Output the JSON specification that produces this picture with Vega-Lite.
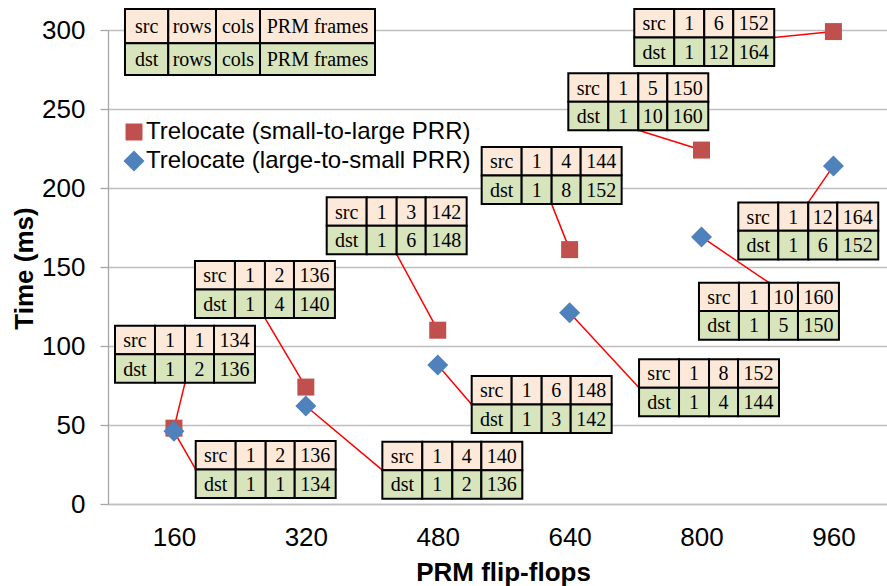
{
  "$schema": "https://vega.github.io/schema/vega-lite/v6.json",
  "width": 779,
  "height": 474,
  "autosize": {"type": "none"},
  "padding": {"left": 108, "top": 30, "right": 0, "bottom": 82},
  "background": "white",
  "config": {
    "view": {"stroke": null},
    "font": "Liberation Sans",
    "legend": {"labelLimit": 600},
    "axisX": {
      "grid": false, "ticks": false, "tickSize": 0,
      "labelFontSize": 26, "labelPadding": 20, "labelColor": "#000000", "labelFont": "Liberation Sans",
      "domainColor": "#bfbfbf", "domainWidth": 1.5,
      "titleFontSize": 26, "titleFontWeight": "bold", "titleColor": "#000000",
      "titleFont": "Liberation Sans", "titleX": 395, "titleY": 76, "titleBaseline": "alphabetic"
    },
    "axisY": {
      "grid": true, "gridColor": "#bfbfbf", "gridWidth": 1.3,
      "ticks": true, "tickSize": 8, "tickColor": "#a6a6a6", "tickWidth": 1.3,
      "domainColor": "#a6a6a6", "domainWidth": 1.3,
      "labelFontSize": 26, "labelPadding": 15, "labelColor": "#000000", "labelFont": "Liberation Sans",
      "titleFontSize": 26, "titleFontWeight": "bold", "titleColor": "#000000",
      "titleFont": "Liberation Sans", "titleAngle": -90, "titleX": -76, "titleY": 238, "titleBaseline": "alphabetic"
    }
  },
  "datasets": {
    "points": [
      {"ff": 160, "time": 48, "series": "Trelocate (small-to-large PRR)"},
      {"ff": 320, "time": 74, "series": "Trelocate (small-to-large PRR)"},
      {"ff": 480, "time": 110, "series": "Trelocate (small-to-large PRR)"},
      {"ff": 640, "time": 161, "series": "Trelocate (small-to-large PRR)"},
      {"ff": 800, "time": 224, "series": "Trelocate (small-to-large PRR)"},
      {"ff": 960, "time": 299, "series": "Trelocate (small-to-large PRR)"},
      {"ff": 160, "time": 46, "series": "Trelocate (large-to-small PRR)"},
      {"ff": 320, "time": 62, "series": "Trelocate (large-to-small PRR)"},
      {"ff": 480, "time": 88, "series": "Trelocate (large-to-small PRR)"},
      {"ff": 640, "time": 121, "series": "Trelocate (large-to-small PRR)"},
      {"ff": 800, "time": 169, "series": "Trelocate (large-to-small PRR)"},
      {"ff": 960, "time": 214, "series": "Trelocate (large-to-small PRR)"}
    ],
    "links": [
      {"x": 888.2, "y": 295.3, "x2": 960, "y2": 299},
      {"x": 723.3, "y": 236.5, "x2": 800, "y2": 224},
      {"x": 618.2, "y": 189.8, "x2": 640, "y2": 161},
      {"x": 430.2, "y": 158.0, "x2": 480, "y2": 110},
      {"x": 270.4, "y": 117.7, "x2": 320, "y2": 74},
      {"x": 173.4, "y": 76.7, "x2": 160, "y2": 48},
      {"x": 186.4, "y": 21.9, "x2": 160, "y2": 46},
      {"x": 412.8, "y": 21.4, "x2": 320, "y2": 62},
      {"x": 521.2, "y": 63.0, "x2": 480, "y2": 88},
      {"x": 724.2, "y": 73.6, "x2": 640, "y2": 121},
      {"x": 881.8, "y": 140.1, "x2": 800, "y2": 169},
      {"x": 929.5, "y": 190.9, "x2": 960, "y2": 214}
    ],
    "cells": [
      {"t": "H", "r": "src", "v": "src", "x": 100.6, "x2": 153.1, "y": 313.3, "y2": 291.6},
      {"t": "H", "r": "src", "v": "rows", "x": 153.1, "x2": 211.0, "y": 313.3, "y2": 291.6},
      {"t": "H", "r": "src", "v": "cols", "x": 211.0, "x2": 264.4, "y": 313.3, "y2": 291.6},
      {"t": "H", "r": "src", "v": "PRM frames", "x": 264.4, "x2": 403.9, "y": 313.3, "y2": 291.6},
      {"t": "H", "r": "dst", "v": "dst", "x": 100.6, "x2": 153.1, "y": 291.6, "y2": 271.5},
      {"t": "H", "r": "dst", "v": "rows", "x": 153.1, "x2": 211.0, "y": 291.6, "y2": 271.5},
      {"t": "H", "r": "dst", "v": "cols", "x": 211.0, "x2": 264.4, "y": 291.6, "y2": 271.5},
      {"t": "H", "r": "dst", "v": "PRM frames", "x": 264.4, "x2": 403.9, "y": 291.6, "y2": 271.5},

      {"t": "R960", "r": "src", "v": "src", "x": 718.4, "x2": 766.9, "y": 313.3, "y2": 295.3},
      {"t": "R960", "r": "src", "v": "1", "x": 766.9, "x2": 803.3, "y": 313.3, "y2": 295.3},
      {"t": "R960", "r": "src", "v": "6", "x": 803.3, "x2": 838.5, "y": 313.3, "y2": 295.3},
      {"t": "R960", "r": "src", "v": "152", "x": 838.5, "x2": 888.2, "y": 313.3, "y2": 295.3},
      {"t": "R960", "r": "dst", "v": "dst", "x": 718.4, "x2": 766.9, "y": 295.3, "y2": 277.2},
      {"t": "R960", "r": "dst", "v": "1", "x": 766.9, "x2": 803.3, "y": 295.3, "y2": 277.2},
      {"t": "R960", "r": "dst", "v": "12", "x": 803.3, "x2": 838.5, "y": 295.3, "y2": 277.2},
      {"t": "R960", "r": "dst", "v": "164", "x": 838.5, "x2": 888.2, "y": 295.3, "y2": 277.2},

      {"t": "R800", "r": "src", "v": "src", "x": 638.4, "x2": 686.9, "y": 272.6, "y2": 254.6},
      {"t": "R800", "r": "src", "v": "1", "x": 686.9, "x2": 723.3, "y": 272.6, "y2": 254.6},
      {"t": "R800", "r": "src", "v": "5", "x": 723.3, "x2": 758.5, "y": 272.6, "y2": 254.6},
      {"t": "R800", "r": "src", "v": "150", "x": 758.5, "x2": 808.2, "y": 272.6, "y2": 254.6},
      {"t": "R800", "r": "dst", "v": "dst", "x": 638.4, "x2": 686.9, "y": 254.6, "y2": 236.5},
      {"t": "R800", "r": "dst", "v": "1", "x": 686.9, "x2": 723.3, "y": 254.6, "y2": 236.5},
      {"t": "R800", "r": "dst", "v": "10", "x": 723.3, "x2": 758.5, "y": 254.6, "y2": 236.5},
      {"t": "R800", "r": "dst", "v": "160", "x": 758.5, "x2": 808.2, "y": 254.6, "y2": 236.5},

      {"t": "R640", "r": "src", "v": "src", "x": 533.3, "x2": 581.8, "y": 225.9, "y2": 207.9},
      {"t": "R640", "r": "src", "v": "1", "x": 581.8, "x2": 618.2, "y": 225.9, "y2": 207.9},
      {"t": "R640", "r": "src", "v": "4", "x": 618.2, "x2": 653.4, "y": 225.9, "y2": 207.9},
      {"t": "R640", "r": "src", "v": "144", "x": 653.4, "x2": 703.1, "y": 225.9, "y2": 207.9},
      {"t": "R640", "r": "dst", "v": "dst", "x": 533.3, "x2": 581.8, "y": 207.9, "y2": 189.8},
      {"t": "R640", "r": "dst", "v": "1", "x": 581.8, "x2": 618.2, "y": 207.9, "y2": 189.8},
      {"t": "R640", "r": "dst", "v": "8", "x": 618.2, "x2": 653.4, "y": 207.9, "y2": 189.8},
      {"t": "R640", "r": "dst", "v": "152", "x": 653.4, "x2": 703.1, "y": 207.9, "y2": 189.8},

      {"t": "R480", "r": "src", "v": "src", "x": 345.3, "x2": 393.8, "y": 194.1, "y2": 176.1},
      {"t": "R480", "r": "src", "v": "1", "x": 393.8, "x2": 430.2, "y": 194.1, "y2": 176.1},
      {"t": "R480", "r": "src", "v": "3", "x": 430.2, "x2": 465.4, "y": 194.1, "y2": 176.1},
      {"t": "R480", "r": "src", "v": "142", "x": 465.4, "x2": 515.1, "y": 194.1, "y2": 176.1},
      {"t": "R480", "r": "dst", "v": "dst", "x": 345.3, "x2": 393.8, "y": 176.1, "y2": 158.0},
      {"t": "R480", "r": "dst", "v": "1", "x": 393.8, "x2": 430.2, "y": 176.1, "y2": 158.0},
      {"t": "R480", "r": "dst", "v": "6", "x": 430.2, "x2": 465.4, "y": 176.1, "y2": 158.0},
      {"t": "R480", "r": "dst", "v": "148", "x": 465.4, "x2": 515.1, "y": 176.1, "y2": 158.0},

      {"t": "R320", "r": "src", "v": "src", "x": 185.5, "x2": 234.0, "y": 153.8, "y2": 135.8},
      {"t": "R320", "r": "src", "v": "1", "x": 234.0, "x2": 270.4, "y": 153.8, "y2": 135.8},
      {"t": "R320", "r": "src", "v": "2", "x": 270.4, "x2": 305.6, "y": 153.8, "y2": 135.8},
      {"t": "R320", "r": "src", "v": "136", "x": 305.6, "x2": 355.3, "y": 153.8, "y2": 135.8},
      {"t": "R320", "r": "dst", "v": "dst", "x": 185.5, "x2": 234.0, "y": 135.8, "y2": 117.7},
      {"t": "R320", "r": "dst", "v": "1", "x": 234.0, "x2": 270.4, "y": 135.8, "y2": 117.7},
      {"t": "R320", "r": "dst", "v": "4", "x": 270.4, "x2": 305.6, "y": 135.8, "y2": 117.7},
      {"t": "R320", "r": "dst", "v": "140", "x": 305.6, "x2": 355.3, "y": 135.8, "y2": 117.7},

      {"t": "R160", "r": "src", "v": "src", "x": 88.5, "x2": 137.0, "y": 112.8, "y2": 94.8},
      {"t": "R160", "r": "src", "v": "1", "x": 137.0, "x2": 173.4, "y": 112.8, "y2": 94.8},
      {"t": "R160", "r": "src", "v": "1", "x": 173.4, "x2": 208.6, "y": 112.8, "y2": 94.8},
      {"t": "R160", "r": "src", "v": "134", "x": 208.6, "x2": 258.3, "y": 112.8, "y2": 94.8},
      {"t": "R160", "r": "dst", "v": "dst", "x": 88.5, "x2": 137.0, "y": 94.8, "y2": 76.7},
      {"t": "R160", "r": "dst", "v": "1", "x": 137.0, "x2": 173.4, "y": 94.8, "y2": 76.7},
      {"t": "R160", "r": "dst", "v": "2", "x": 173.4, "x2": 208.6, "y": 94.8, "y2": 76.7},
      {"t": "R160", "r": "dst", "v": "136", "x": 208.6, "x2": 258.3, "y": 94.8, "y2": 76.7},

      {"t": "B160", "r": "src", "v": "src", "x": 186.4, "x2": 234.9, "y": 39.9, "y2": 21.9},
      {"t": "B160", "r": "src", "v": "1", "x": 234.9, "x2": 271.3, "y": 39.9, "y2": 21.9},
      {"t": "B160", "r": "src", "v": "2", "x": 271.3, "x2": 306.5, "y": 39.9, "y2": 21.9},
      {"t": "B160", "r": "src", "v": "136", "x": 306.5, "x2": 356.2, "y": 39.9, "y2": 21.9},
      {"t": "B160", "r": "dst", "v": "dst", "x": 186.4, "x2": 234.9, "y": 21.9, "y2": 3.8},
      {"t": "B160", "r": "dst", "v": "1", "x": 234.9, "x2": 271.3, "y": 21.9, "y2": 3.8},
      {"t": "B160", "r": "dst", "v": "1", "x": 271.3, "x2": 306.5, "y": 21.9, "y2": 3.8},
      {"t": "B160", "r": "dst", "v": "134", "x": 306.5, "x2": 356.2, "y": 21.9, "y2": 3.8},

      {"t": "B320", "r": "src", "v": "src", "x": 412.8, "x2": 461.3, "y": 39.4, "y2": 21.4},
      {"t": "B320", "r": "src", "v": "1", "x": 461.3, "x2": 497.7, "y": 39.4, "y2": 21.4},
      {"t": "B320", "r": "src", "v": "4", "x": 497.7, "x2": 532.9, "y": 39.4, "y2": 21.4},
      {"t": "B320", "r": "src", "v": "140", "x": 532.9, "x2": 582.6, "y": 39.4, "y2": 21.4},
      {"t": "B320", "r": "dst", "v": "dst", "x": 412.8, "x2": 461.3, "y": 21.4, "y2": 3.3},
      {"t": "B320", "r": "dst", "v": "1", "x": 461.3, "x2": 497.7, "y": 21.4, "y2": 3.3},
      {"t": "B320", "r": "dst", "v": "2", "x": 497.7, "x2": 532.9, "y": 21.4, "y2": 3.3},
      {"t": "B320", "r": "dst", "v": "136", "x": 532.9, "x2": 582.6, "y": 21.4, "y2": 3.3},

      {"t": "B480", "r": "src", "v": "src", "x": 521.2, "x2": 569.7, "y": 81.0, "y2": 63.0},
      {"t": "B480", "r": "src", "v": "1", "x": 569.7, "x2": 606.1, "y": 81.0, "y2": 63.0},
      {"t": "B480", "r": "src", "v": "6", "x": 606.1, "x2": 641.3, "y": 81.0, "y2": 63.0},
      {"t": "B480", "r": "src", "v": "148", "x": 641.3, "x2": 691.0, "y": 81.0, "y2": 63.0},
      {"t": "B480", "r": "dst", "v": "dst", "x": 521.2, "x2": 569.7, "y": 63.0, "y2": 44.9},
      {"t": "B480", "r": "dst", "v": "1", "x": 569.7, "x2": 606.1, "y": 63.0, "y2": 44.9},
      {"t": "B480", "r": "dst", "v": "3", "x": 606.1, "x2": 641.3, "y": 63.0, "y2": 44.9},
      {"t": "B480", "r": "dst", "v": "142", "x": 641.3, "x2": 691.0, "y": 63.0, "y2": 44.9},

      {"t": "B640", "r": "src", "v": "src", "x": 724.2, "x2": 772.7, "y": 91.6, "y2": 73.6},
      {"t": "B640", "r": "src", "v": "1", "x": 772.7, "x2": 809.1, "y": 91.6, "y2": 73.6},
      {"t": "B640", "r": "src", "v": "8", "x": 809.1, "x2": 844.3, "y": 91.6, "y2": 73.6},
      {"t": "B640", "r": "src", "v": "152", "x": 844.3, "x2": 894.0, "y": 91.6, "y2": 73.6},
      {"t": "B640", "r": "dst", "v": "dst", "x": 724.2, "x2": 772.7, "y": 73.6, "y2": 55.5},
      {"t": "B640", "r": "dst", "v": "1", "x": 772.7, "x2": 809.1, "y": 73.6, "y2": 55.5},
      {"t": "B640", "r": "dst", "v": "4", "x": 809.1, "x2": 844.3, "y": 73.6, "y2": 55.5},
      {"t": "B640", "r": "dst", "v": "144", "x": 844.3, "x2": 894.0, "y": 73.6, "y2": 55.5},

      {"t": "B800", "r": "src", "v": "src", "x": 796.9, "x2": 845.4, "y": 140.1, "y2": 122.1},
      {"t": "B800", "r": "src", "v": "1", "x": 845.4, "x2": 881.8, "y": 140.1, "y2": 122.1},
      {"t": "B800", "r": "src", "v": "10", "x": 881.8, "x2": 917.0, "y": 140.1, "y2": 122.1},
      {"t": "B800", "r": "src", "v": "160", "x": 917.0, "x2": 966.7, "y": 140.1, "y2": 122.1},
      {"t": "B800", "r": "dst", "v": "dst", "x": 796.9, "x2": 845.4, "y": 122.1, "y2": 104.0},
      {"t": "B800", "r": "dst", "v": "1", "x": 845.4, "x2": 881.8, "y": 122.1, "y2": 104.0},
      {"t": "B800", "r": "dst", "v": "5", "x": 881.8, "x2": 917.0, "y": 122.1, "y2": 104.0},
      {"t": "B800", "r": "dst", "v": "150", "x": 917.0, "x2": 966.7, "y": 122.1, "y2": 104.0},

      {"t": "B960", "r": "src", "v": "src", "x": 844.6, "x2": 893.1, "y": 190.9, "y2": 172.9},
      {"t": "B960", "r": "src", "v": "1", "x": 893.1, "x2": 929.5, "y": 190.9, "y2": 172.9},
      {"t": "B960", "r": "src", "v": "12", "x": 929.5, "x2": 964.7, "y": 190.9, "y2": 172.9},
      {"t": "B960", "r": "src", "v": "164", "x": 964.7, "x2": 1014.4, "y": 190.9, "y2": 172.9},
      {"t": "B960", "r": "dst", "v": "dst", "x": 844.6, "x2": 893.1, "y": 172.9, "y2": 154.8},
      {"t": "B960", "r": "dst", "v": "1", "x": 893.1, "x2": 929.5, "y": 172.9, "y2": 154.8},
      {"t": "B960", "r": "dst", "v": "6", "x": 929.5, "x2": 964.7, "y": 172.9, "y2": 154.8},
      {"t": "B960", "r": "dst", "v": "152", "x": 964.7, "x2": 1014.4, "y": 172.9, "y2": 154.8}
    ]
  },
  "layer": [
    {
      "data": {"name": "points"},
      "mark": {"type": "point", "opacity": 0},
      "encoding": {
        "x": {
          "field": "ff", "type": "quantitative", "title": "PRM flip-flops",
          "scale": {"domain": [80, 1025], "nice": false, "zero": false},
          "axis": {"values": [160, 320, 480, 640, 800, 960]}
        },
        "y": {
          "field": "time", "type": "quantitative", "title": "Time (ms)",
          "scale": {"domain": [0, 300], "nice": false},
          "axis": {"values": [0, 50, 100, 150, 200, 250, 300]}
        }
      }
    },
    {
      "data": {"name": "links"},
      "mark": {"type": "rule", "color": "#ff0000", "strokeWidth": 1.5},
      "encoding": {
        "x": {"field": "x", "type": "quantitative", "title": "PRM flip-flops", "scale": {"domain": [80, 1025], "nice": false, "zero": false}},
        "y": {"field": "y", "type": "quantitative", "title": "Time (ms)", "scale": {"domain": [0, 300], "nice": false}},
        "x2": {"field": "x2"},
        "y2": {"field": "y2"}
      }
    },
    {
      "data": {"name": "cells"},
      "mark": {"type": "rect", "stroke": "#000000", "strokeWidth": 2},
      "encoding": {
        "x": {"field": "x", "type": "quantitative", "title": "PRM flip-flops", "scale": {"domain": [80, 1025], "nice": false, "zero": false}},
        "y": {"field": "y", "type": "quantitative", "title": "Time (ms)", "scale": {"domain": [0, 300], "nice": false}},
        "x2": {"field": "x2"},
        "y2": {"field": "y2"},
        "fill": {"field": "r", "type": "nominal", "scale": {"domain": ["src", "dst"], "range": ["#fde9d9", "#d7e4bc"]}, "legend": null}
      }
    },
    {
      "data": {"name": "cells"},
      "transform": [
        {"calculate": "(datum.x + datum.x2) / 2", "as": "xm"},
        {"calculate": "(datum.y + datum.y2) / 2", "as": "ym"}
      ],
      "mark": {"type": "text", "font": "Liberation Serif", "fontSize": 20, "color": "#000000", "align": "center", "baseline": "middle", "dy": 1},
      "encoding": {
        "x": {"field": "xm", "type": "quantitative", "title": "PRM flip-flops", "scale": {"domain": [80, 1025], "nice": false, "zero": false}},
        "y": {"field": "ym", "type": "quantitative", "title": "Time (ms)", "scale": {"domain": [0, 300], "nice": false}},
        "text": {"field": "v"}
      }
    },
    {
      "data": {"name": "points"},
      "mark": {"type": "point", "filled": true, "opacity": 1, "strokeWidth": 0},
      "encoding": {
        "x": {"field": "ff", "type": "quantitative", "title": "PRM flip-flops", "scale": {"domain": [80, 1025], "nice": false, "zero": false}},
        "y": {"field": "time", "type": "quantitative", "title": "Time (ms)", "scale": {"domain": [0, 300], "nice": false}},
        "color": {
          "field": "series", "type": "nominal",
          "scale": {"domain": ["Trelocate (small-to-large PRR)", "Trelocate (large-to-small PRR)"], "range": ["#c0504d", "#4f81bd"]},
          "legend": {
            "title": null, "orient": "none", "legendX": 14, "legendY": 90,
            "labelFontSize": 24, "labelFont": "Liberation Sans", "labelColor": "#000000", "labelLimit": 600,
            "symbolSize": 196, "symbolStrokeWidth": 0, "labelOffset": 0, "rowPadding": 5, "padding": 0
          }
        },
        "shape": {
          "field": "series", "type": "nominal",
          "scale": {"domain": ["Trelocate (small-to-large PRR)", "Trelocate (large-to-small PRR)"], "range": ["square", "diamond"]}
        },
        "size": {
          "field": "series", "type": "nominal",
          "scale": {"domain": ["Trelocate (small-to-large PRR)", "Trelocate (large-to-small PRR)"], "range": [289, 441]},
          "legend": null
        }
      }
    }
  ]
}
